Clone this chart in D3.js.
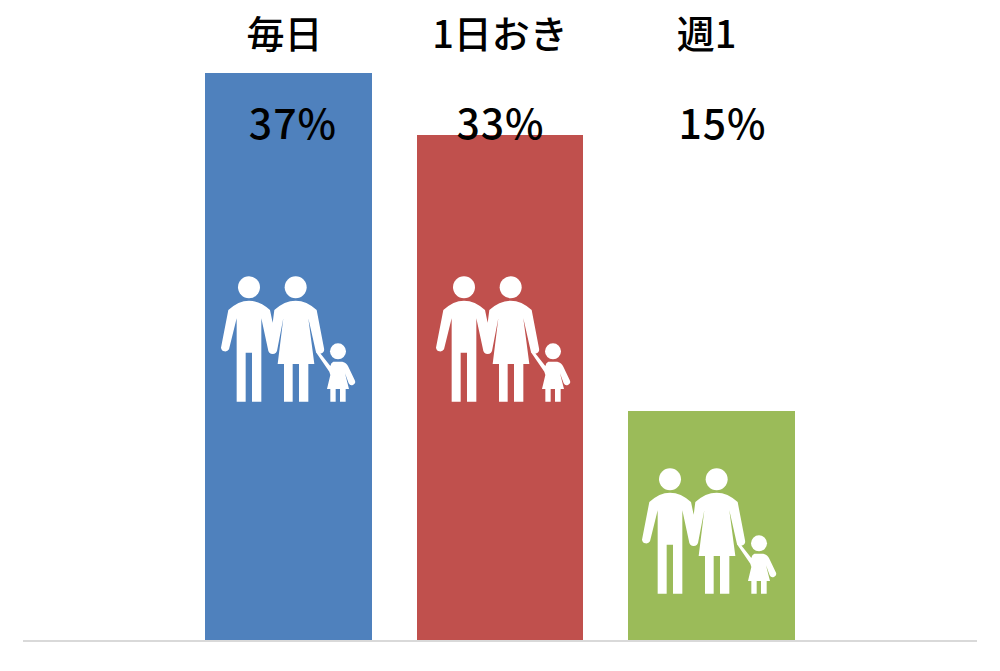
<!doctype html>
<html lang="ja">
<head>
  <meta charset="utf-8">
  <title>頻度</title>
  <script src="https://d3js.org/d3.v7.min.js"></script>
  <style>
    html, body { margin: 0; padding: 0; background: #fff; }
    svg { display: block; }
    .bar { shape-rendering: crispEdges; }
    .axis path { stroke: #d9d9d9; stroke-width: 2; }
    text { font-family: "Noto Sans CJK JP", sans-serif; fill: #000; }
    .name { font-size: 38px; font-weight: 500; }
    .pct { font-size: 41px; font-weight: 500; letter-spacing: 1px; }
  </style>
</head>
<body>
  <div id="chart"></div>
  <script>
    const categories = ["毎日", "1日おき", "週1"];
    const values = [37, 33, 15];
    const colors = ["#4f81bd", "#c0504d", "#9bbb59"];

    const width = 1000, height = 671;
    const baseline = 640.4;

    const x = d3.scaleBand()
      .domain(categories)
      .range([23, 977])
      .paddingInner(0.215)
      .paddingOuter(0.8628);
    const y = d3.scaleLinear()
      .domain([0, 37])
      .range([baseline, 73.4]);

    // labels and icons in the original are not quite centred on the bars
    const nameDx = [-4, 0, -5];
    const pctDx = [4.5, 0.5, 11];
    const iconDx = [-83.5, -80, -85.5];
    const iconY = [260, 260, 452];

    // family icon, traced at 3x
    const adults = "M70 150Q100 122 132 122Q165 122 195 150L203 188L208 150Q238 122 272 122Q305 122 335 150L357 265A13 13 0 0 1 332 272L310 175L328 312H310V425H282V312H263V425H237V312H218L235 175L217 268A13 13 0 0 1 189 268L169 175V425H141V278H122V425H95V175L72 268A13 13 0 0 1 48 263Z";
    const child = "M385 305H412Q425 308 430 320L449 360A10 10 0 0 1 431 370L420 340L432 387H422V425H405V387H392V425H376V387H366L376 345L373 335L332 275L338 270L376 318Q378 308 385 305Z";

    const svg = d3.select('#chart')
      .append('svg')
        .attr('width', width)
        .attr('height', height)
        .attr('viewBox', `0 0 ${width} ${height}`);

    const rows = categories.map((c, i) => ({ c, v: values[i], i }));

    svg.selectAll('rect.bar')
      .data(rows)
      .join('rect')
        .attr('class', 'bar')
        .attr('x', d => x(d.c))
        .attr('y', d => y(d.v))
        .attr('width', x.bandwidth())
        .attr('height', d => baseline - y(d.v))
        .attr('fill', d => colors[d.i]);

    svg.append('g')
      .attr('class', 'axis')
      .attr('transform', 'translate(0,641)')
      .call(d3.axisBottom(x).offset(0).tickSize(0).tickSizeOuter(0).tickFormat(''))
      .call(g => g.selectAll('.tick').remove());

    const icons = svg.selectAll('g.icon')
      .data(rows)
      .join('g')
        .attr('class', 'icon')
        .attr('transform', d => `translate(${x(d.c) + x.bandwidth() / 2 + iconDx[d.i]},${iconY[d.i]}) scale(${1 / 3})`)
        .attr('fill', '#fff');
    icons.append('path').attr('d', adults);
    icons.append('path').attr('d', child);
    icons.append('circle').attr('cx', 132).attr('cy', 82).attr('r', 33);
    icons.append('circle').attr('cx', 272).attr('cy', 82).attr('r', 33);
    icons.append('circle').attr('cx', 399).attr('cy', 274).attr('r', 24);

    svg.selectAll('text.name')
      .data(rows)
      .join('text')
        .attr('class', 'name')
        .attr('text-anchor', 'middle')
        .attr('x', d => x(d.c) + x.bandwidth() / 2 + nameDx[d.i])
        .attr('y', 48)
        .text(d => d.c);

    svg.selectAll('text.pct')
      .data(rows)
      .join('text')
        .attr('class', 'pct')
        .attr('text-anchor', 'middle')
        .attr('x', d => x(d.c) + x.bandwidth() / 2 + pctDx[d.i])
        .attr('y', 139)
        .text(d => d.v + '%');
  </script>
</body>
</html>
